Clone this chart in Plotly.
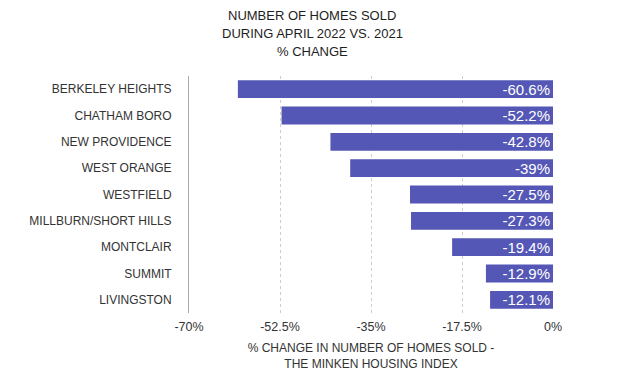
import plotly.graph_objects as go

towns = ["BERKELEY HEIGHTS", "CHATHAM BORO", "NEW PROVIDENCE", "WEST ORANGE",
         "WESTFIELD", "MILLBURN/SHORT HILLS", "MONTCLAIR", "SUMMIT", "LIVINGSTON"]
pct_change = [-60.6, -52.2, -42.8, -39, -27.5, -27.3, -19.4, -12.9, -12.1]
tick_vals = [-70, -52.5, -35, -17.5, 0]
tick_text = ["-70%", "-52.5%", "-35%", "-17.5%", "0%"]
title_lines = ["NUMBER OF HOMES SOLD", "DURING APRIL 2022 VS. 2021", "% CHANGE"]

FONT = "Liberation Sans, Arial, Helvetica, sans-serif"
# page body has an 8px margin; the figure is sized so it ends at the window edge
W, H = 616, 377
L, R, T, B = 181, 71, 68, 72
PW, PH = W - L - R, H - T - B

fig = go.Figure(go.Bar(
    y=towns, x=pct_change, orientation="h",
    marker=dict(color="#5457B5", line=dict(width=0)),
    width=0.68,
    text=[f"{v:g}%" for v in pct_change],
    textposition="inside", insidetextanchor="start", constraintext="none",
    textfont=dict(color="white", size=15, family=FONT),
))

title_centers_px = [15, 33, 52]  # page pixel centres
for line, cy in zip(title_lines, title_centers_px):
    fig.add_annotation(
        text=line, xref="paper", yref="paper",
        x=(304 - L) / PW, y=1 + (T - (cy - 8)) / PH,
        xanchor="center", yanchor="middle", showarrow=False,
        font=dict(size=13, color="#1e1e1e", family=FONT))

fig.update_layout(
    width=W, height=H,
    margin=dict(l=L, r=R, t=T, b=B, autoexpand=False),
    paper_bgcolor="white", plot_bgcolor="white",
    font=dict(family=FONT, color="#333333", size=12),
    showlegend=False,
    xaxis=dict(range=[-70, 0], tickvals=tick_vals, ticktext=tick_text,
               showgrid=True, gridcolor="#cccccc", griddash="dot", gridwidth=1,
               zeroline=False, tickfont=dict(size=12.5, color="#333333"),
               ticks="", ticklabelstandoff=4, automargin=False,
               title=dict(text="% CHANGE IN NUMBER OF HOMES SOLD -<br>THE MINKEN HOUSING INDEX",
                          font=dict(size=12, color="#333333"), standoff=11)),
    yaxis=dict(autorange="reversed", showline=True, linecolor="#aaaaaa", linewidth=1,
               ticks="", tickfont=dict(size=12, color="#333333"), ticklabelstandoff=14,
               showgrid=False, automargin=False),
)
fig.write_html("out.html")
